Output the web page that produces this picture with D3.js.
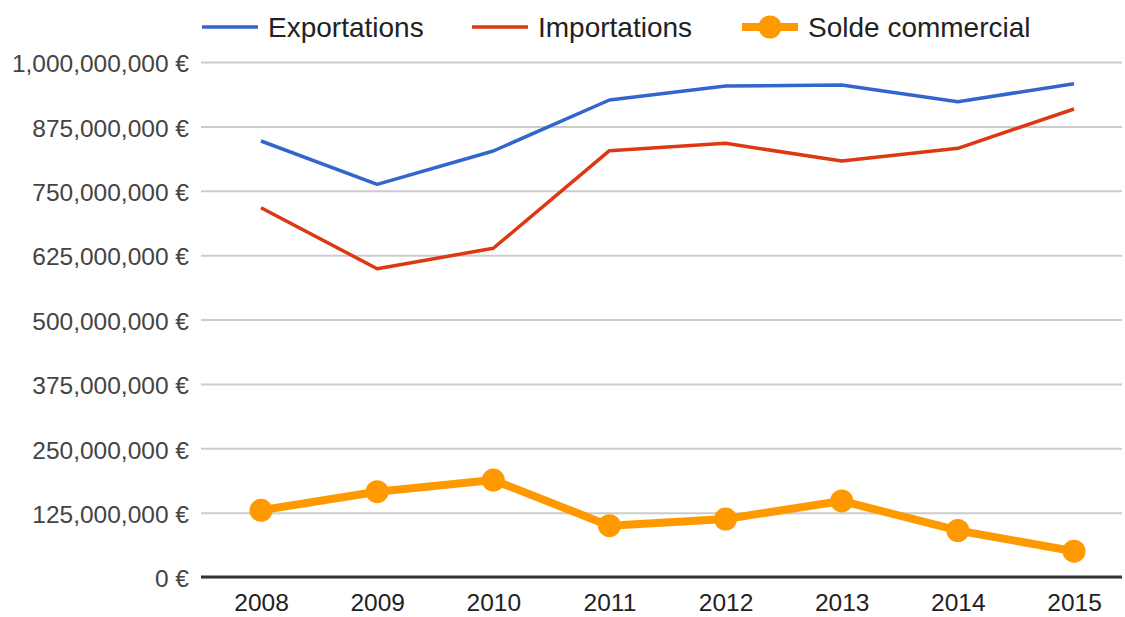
<!DOCTYPE html>
<html>
<head>
<meta charset="utf-8">
<script src="https://cdn.jsdelivr.net/npm/d3@7"></script>
<style>
  body { margin: 0; background: #fff; }
  text { font-family: Arial, "Liberation Sans", sans-serif; }
</style>
</head>
<body>
<div id="chart"></div>
<script>
let width = 1125;
let height = 617;

// données
let years = ['2008', '2009', '2010', '2011', '2012', '2013', '2014', '2015'];
let exportations = [846.6, 762.5, 827.2, 926.2, 953.4, 955.3, 922.9, 957.9];
let importations = [717.1, 598.6, 638.3, 827.8, 842.1, 807.8, 832.4, 908.7];
let solde = [129.5, 165.6, 188.3, 99.6, 112.6, 147.6, 90.3, 50.1];
let yTicks = [0, 125, 250, 375, 500, 625, 750, 875, 1000];

let seriesNames = ['Exportations', 'Importations', 'Solde commercial'];
let colors = ['#3366cc', '#dc3912', '#ff9900'];

let x = d3.scalePoint()
  .domain(years)
  .range([261, 1074]);

let y = d3.scaleLinear()
  .domain([0, 1000e6])
  .range([577, 62]);

const svg = d3.select('#chart').append('svg')
  .attr('width', width)
  .attr('height', height);

let fmt = d => d3.format(',')(d) + ' €';

// axe y + grille
let yAxis = g => g
  .attr('transform', 'translate(201, 0)')
  .call(d3.axisLeft(y).tickValues(yTicks.map(v => v * 1e6)).tickSize(-921).tickPadding(12).tickFormat(fmt))
  .call(g => g.select('.domain').remove())
  .call(g => g.selectAll('.tick line').attr('stroke', '#cccccc').attr('stroke-width', 2))
  .call(g => g.selectAll('.tick text').attr('fill', '#444').attr('font-size', 24.5).attr('dy', '0.4em').attr('font-family', 'Arial, "Liberation Sans", sans-serif'));

svg.append('g').call(yAxis);

// ligne de base
svg.append('line')
  .attr('x1', 201).attr('x2', 1122)
  .attr('y1', y(0)).attr('y2', y(0))
  .attr('stroke', '#333').attr('stroke-width', 3);

// axe x
let xAxis = g => g
  .attr('transform', `translate(0, ${y(0)})`)
  .call(d3.axisBottom(x).tickSize(0).tickPadding(17))
  .call(g => g.select('.domain').remove())
  .call(g => g.selectAll('.tick text').attr('fill', '#222').attr('font-size', 24.5).attr('font-family', 'Arial, "Liberation Sans", sans-serif'));

svg.append('g').call(xAxis);

let line = d3.line()
  .x((d, i) => x(years[i]))
  .y(d => y(d * 1e6));

svg.append('path')
  .datum(exportations)
  .attr('fill', 'none')
  .attr('stroke', colors[0])
  .attr('stroke-width', 3.5)
  .attr('stroke-linejoin', 'round')
  .attr('d', line);

svg.append('path')
  .datum(importations)
  .attr('fill', 'none')
  .attr('stroke', colors[1])
  .attr('stroke-width', 3.5)
  .attr('stroke-linejoin', 'round')
  .attr('d', line);

svg.append('path')
  .datum(solde)
  .attr('fill', 'none')
  .attr('stroke', colors[2])
  .attr('stroke-width', 8)
  .attr('stroke-linejoin', 'round')
  .attr('d', line);

svg.append('g')
  .selectAll('circle')
  .data(solde)
  .join('circle')
  .attr('cx', (d, i) => x(years[i]))
  .attr('cy', d => y(d * 1e6))
  .attr('r', 11.5)
  .attr('fill', colors[2]);

// légende
let legendX = [202, 472, 742];
let legend = svg.append('g')
  .selectAll('g')
  .data(seriesNames)
  .join('g')
  .attr('transform', (d, i) => `translate(${legendX[i]}, 27)`);

legend.append('line')
  .attr('x1', 0).attr('x2', 56)
  .attr('stroke', (d, i) => colors[i])
  .attr('stroke-width', (d, i) => i == 2 ? 8 : 3.5);

legend.filter((d, i) => i == 2).append('circle')
  .attr('cx', 28).attr('r', 11.5)
  .attr('fill', colors[2]);

legend.append('text')
  .attr('x', 66)
  .attr('dy', '0.36em')
  .attr('font-size', 28)
  .attr('fill', '#222')
  .text(d => d);
</script>
</body>
</html>
